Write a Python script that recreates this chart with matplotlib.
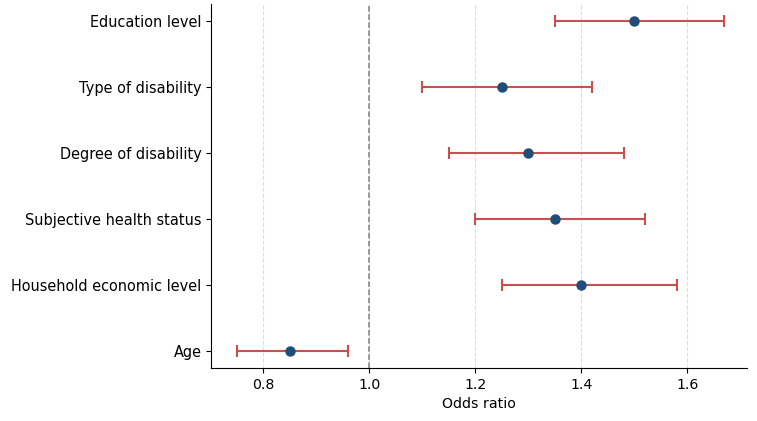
import numpy as np
from matplotlib import pyplot as plt

factors = ["Age", "Household economic level", "Subjective health status",
           "Degree of disability", "Type of disability", "Education level"]
odds = [0.85, 1.40, 1.35, 1.30, 1.25, 1.50]
ci_low = [0.75, 1.25, 1.20, 1.15, 1.10, 1.35]
ci_high = [0.96, 1.58, 1.52, 1.48, 1.42, 1.67]

odds = np.array(odds)
err = [odds - np.array(ci_low), np.array(ci_high) - odds]
y = np.arange(len(factors))

fig = plt.figure(figsize=(7.57, 4.21), dpi=100)
ax = fig.add_axes([0.279, 0.126, 0.708, 0.864])

ax.errorbar(odds, y, xerr=err, fmt='o', color='#1f4e79', ecolor='#c8504f',
            elinewidth=1.5, capsize=4.5, capthick=1.5, markersize=6.5, zorder=3)
ax.axvline(1.0, color='grey', linestyle='--', linewidth=1.1)

ax.set_yticks(y)
ax.set_yticklabels(factors, fontsize=10.45)
ax.tick_params(axis='x', labelsize=10.2)
ax.set_xlabel("Odds ratio", fontsize=10.2)
ax.set_xlim(0.702, 1.713)
ax.set_ylim(-0.25, 5.25)
ax.grid(axis='x', linestyle='--', color='#dddddd', linewidth=0.8)
ax.set_axisbelow(True)
ax.spines['top'].set_visible(False)
ax.spines['right'].set_visible(False)

fig.savefig("out.png", dpi=100)
